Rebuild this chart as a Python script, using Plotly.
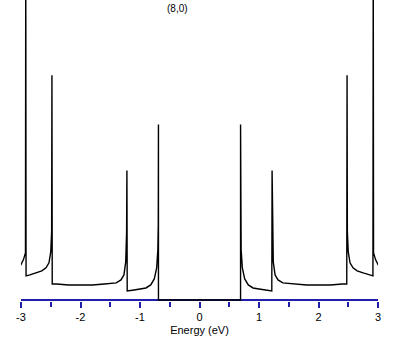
import plotly.graph_objects as go

# Density of states of a (8,0) nanotube (arbitrary units)
energy = [
    -3.020, -2.960, -2.925, -2.920, -2.915, -2.850, -2.750, -2.650, -2.580, -2.530,
    -2.500, -2.485, -2.480, -2.475, -2.400, -2.200, -2.000, -1.800, -1.600, -1.400,
    -1.320, -1.270, -1.240, -1.225, -1.220, -1.215, -1.100, -1.000, -0.900, -0.820,
    -0.760, -0.720, -0.700, -0.693, -0.690, -0.690,
    0.000,
    0.690, 0.690, 0.693, 0.700, 0.720, 0.760, 0.820, 0.900, 1.000,
    1.100, 1.215, 1.220, 1.225, 1.240, 1.270, 1.320, 1.400, 1.600, 1.800,
    2.000, 2.200, 2.400, 2.475, 2.480, 2.485, 2.500, 2.530, 2.580, 2.650,
    2.750, 2.850, 2.915, 2.920, 2.925, 2.960, 3.020,
]
dos = [
    0.33, 0.40, 0.47, 3.50, 0.24, 0.25, 0.27, 0.29, 0.32, 0.37,
    0.48, 0.68, 2.24, 0.16, 0.16, 0.15, 0.15, 0.15, 0.16, 0.17,
    0.20, 0.25, 0.38, 0.68, 1.29, 0.09, 0.10, 0.11, 0.12, 0.15,
    0.21, 0.32, 0.50, 0.75, 1.75, 0.00,
    0.00,
    0.00, 1.75, 0.75, 0.50, 0.32, 0.21, 0.15, 0.12, 0.11,
    0.10, 0.09, 1.29, 0.68, 0.38, 0.25, 0.20, 0.17, 0.16, 0.15,
    0.15, 0.15, 0.16, 0.16, 2.24, 0.68, 0.48, 0.37, 0.32, 0.29,
    0.27, 0.25, 0.24, 3.50, 0.47, 0.40, 0.33,
]

major_ticks = [-3, -2, -1, 0, 1, 2, 3]
major_labels = ["-3", "-2", "-1", "0", "1", "2", "3"]
minor_ticks = [-2.5, -1.5, -0.5, 0.5, 1.5, 2.5]
title_text = "(8,0)"
x_title = "Energy (eV)"

axis_blue = "rgb(30,30,170)"
font_family = "Liberation Sans, Arial, sans-serif"

fig = go.Figure()
fig.add_trace(go.Scatter(
    x=energy, y=dos, mode="lines",
    line=dict(color="black", width=1.4),
    hoverinfo="skip", showlegend=False,
))

fig.update_layout(
    width=409, height=345,
    margin=dict(l=21, r=31, t=0, b=44),
    paper_bgcolor="white", plot_bgcolor="white",
    font=dict(family=font_family, size=11, color="black"),
)
fig.add_annotation(
    text=title_text, xref="paper", yref="paper",
    x=(177 - 21) / 357, y=1 - 9 / 301, yanchor="middle", xanchor="center",
    showarrow=False, font=dict(size=10, color="black"),
)

fig.update_xaxes(
    range=[-3, 3], showgrid=False, zeroline=False,
    showline=False,
    tickmode="array", tickvals=major_ticks, ticktext=major_labels,
    ticks="outside", ticklen=6, tickcolor=axis_blue, tickwidth=1.5,
    tickfont=dict(size=11, color="black"),
    minor=dict(tickmode="array", tickvals=minor_ticks, ticks="outside",
               ticklen=5, tickcolor=axis_blue, tickwidth=1.5),
    title=dict(text=x_title, font=dict(size=11, color="black"), standoff=4),
)
fig.update_yaxes(
    range=[-0.01, 2.99], showgrid=False, showline=False,
    showticklabels=False, ticks="",
    zeroline=True, zerolinecolor=axis_blue, zerolinewidth=1.5,
)

fig.write_html("out.html", config={"displayModeBar": False},
               post_script="document.body.style.margin='0';")
